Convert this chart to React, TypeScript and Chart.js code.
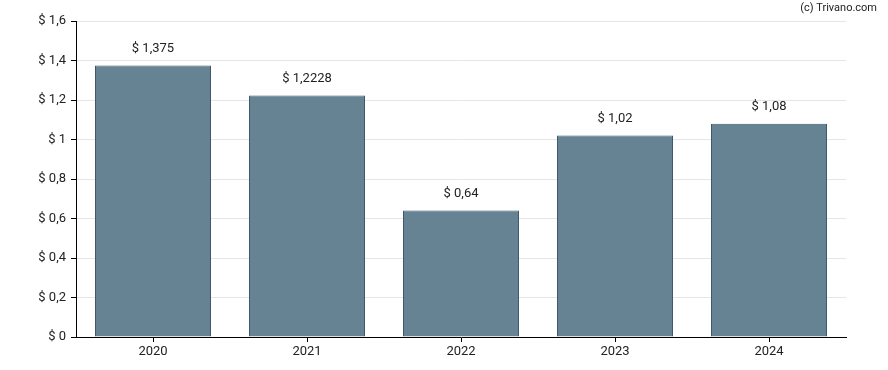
import React, { useEffect, useRef } from "react";
import { Chart, registerables } from "chart.js";

Chart.register(...registerables);

const categories = ["2020", "2021", "2022", "2023", "2024"];
const values = [1.375, 1.2228, 0.64, 1.02, 1.08];
const yTicks = [0, 0.2, 0.4, 0.6, 0.8, 1, 1.2, 1.4, 1.6];
const watermark = "(c) Trivano.com";

const fmt = (v: number) => "$ " + String(v).replace(".", ",");

export default function App() {
  const ref = useRef<HTMLCanvasElement | null>(null);

  useEffect(() => {
    if (!ref.current) return;
    const labelPlugin = {
      id: "valueLabels",
      afterDatasetsDraw(chart: any) {
        const ctx = chart.ctx;
        const meta = chart.getDatasetMeta(0);
        ctx.save();
        ctx.font = "13px Roboto";
        ctx.fillStyle = "#222";
        ctx.textAlign = "center";
        ctx.textBaseline = "middle";
        meta.data.forEach((el: any, i: number) => {
          ctx.fillText(fmt(values[i]), el.x, el.y - 17);
        });
        ctx.font = "11px Roboto";
        ctx.textAlign = "right";
        ctx.fillText(watermark, 877, 8);
        ctx.restore();
      },
    };
    const chart = new Chart(ref.current, {
      type: "bar",
      data: {
        labels: categories,
        datasets: [
          {
            data: values,
            backgroundColor: "rgb(102,131,148)",
            borderColor: "rgb(62,88,108)",
            borderWidth: 1,
            inflateAmount: 0,
            barThickness: 116,
          },
        ],
      },
      options: {
        animation: false,
        responsive: false,
        maintainAspectRatio: false,
        layout: { padding: { top: 21, right: 42, left: 0, bottom: 0 } },
        plugins: { legend: { display: false }, tooltip: { enabled: false } },
        scales: {
          x: {
            offset: true,
            grid: {
              offset: false,
              drawOnChartArea: false,
              tickColor: "#000",
              tickLength: 5,
            },
            border: { color: "#000", width: 1 },
            ticks: { color: "#222", font: { family: "Roboto", size: 13 }, padding: 2 },
            afterFit: (s: any) => {
              s.height = 33;
            },
          },
          y: {
            min: 0,
            max: 1.6,
            afterBuildTicks: (s: any) => {
              s.ticks = yTicks.map((v) => ({ value: v }));
            },
            grid: { color: "#e6e6e6", tickColor: "#000", tickLength: 5 },
            border: { color: "#000", width: 1 },
            ticks: {
              color: "#222",
              font: { family: "Roboto", size: 13 },
              padding: 5,
              callback: (v: any) => fmt(Number(v)),
            },
            afterFit: (s: any) => {
              s.width = 76;
            },
          },
        },
      },
      plugins: [labelPlugin],
    });
    return () => chart.destroy();
  }, []);

  return (
    <div style={{ position: "absolute", left: 0, top: 0, width: 888, height: 370 }}>
      <canvas ref={ref} width={888} height={370} style={{ width: 888, height: 370 }} />
    </div>
  );
}
